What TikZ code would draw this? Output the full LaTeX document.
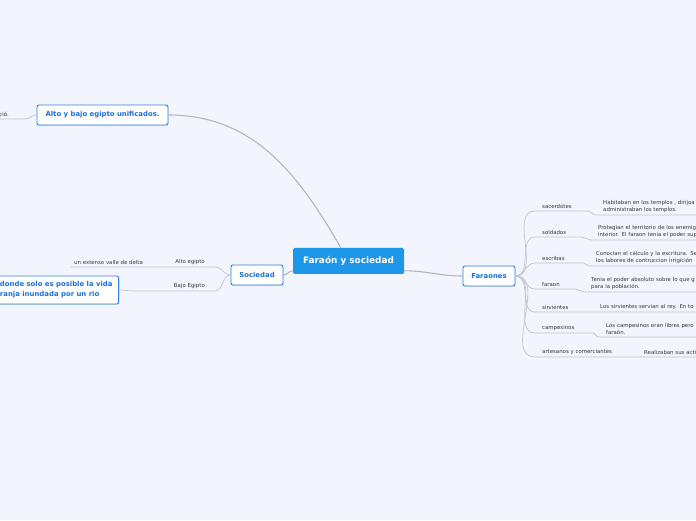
\documentclass[tikz,border=0pt]{standalone}
\usepackage{fontspec}
\setmainfont{DejaVu Sans}
\usetikzlibrary{positioning,calc,shadows}
\definecolor{Paper}{RGB}{242,245,254}
\definecolor{Topic}{RGB}{29,151,233}
\definecolor{Rim}{RGB}{42,128,222}
\definecolor{Ink}{RGB}{28,112,212}
\definecolor{Wire}{RGB}{192,196,205}
\definecolor{Trunk}{RGB}{178,182,190}

\begin{document}
\begin{tikzpicture}[x=1pt,y=1pt,
  main/.style={fill=Topic,rounded corners=1.5pt,text=white,font=\fontsize{8.9}{10}\selectfont\bfseries,minimum width=111pt,minimum height=26pt},
  sub/.style={draw=Rim,line width=0.9pt,fill=white,rounded corners=2pt,text=Ink,font=\fontsize{6.9}{10}\selectfont\bfseries,minimum height=20pt,inner xsep=7pt,drop shadow={opacity=0.18,shadow xshift=0.7pt,shadow yshift=-0.9pt}},
  leaf/.style={font=\fontsize{5.4}{6.8}\selectfont,text=black!78,inner xsep=7pt,inner ysep=2.2pt},
  wire/.style={draw=Wire,line width=0.7pt},
  trunk/.style={draw=Trunk,line width=1.1pt}]

  \fill[Paper] (0,0) rectangle (696,520);
  \useasboundingbox (0,0) rectangle (696,520);

  \node[main] (root) at (348.5,259) {Faraón y sociedad};
  \node[sub,minimum width=131pt] (unif) at (102.5,405) {Alto y bajo egipto unificados.};
  \node[sub,minimum width=52pt] (soc) at (257,245) {Sociedad};
  \node[sub,minimum width=52pt] (far) at (489,244) {Faraones};
  \node[sub,anchor=east,align=left,minimum height=28pt,inner xsep=6pt] (zona) at (119,230) {donde solo es posible la vida\\ranja inundada por un rio};

  \node[leaf,anchor=south east,text width=14pt,align=right,inner xsep=16pt] (cio) at (25,401) {ció.};
  \node[leaf,anchor=south east,align=right,inner xsep=10pt] (alto) at (215,253) {Alto egipto};
  \node[leaf,anchor=south west,text width=88pt,align=left,inner xsep=4pt] (valle) at (70,253) {un extenso valle de delta};
  \node[leaf,anchor=south east,text width=60pt,align=right,inner xsep=10pt] (bajo) at (215,229) {Bajo Egipto};

  \node[leaf,anchor=south west,text width=38pt,align=left] (sac) at (535,309) {sacerdotes};
  \node[leaf,anchor=south west,text width=32pt,align=left] (sol) at (535,283) {soldados};
  \node[leaf,anchor=south west,text width=34pt,align=left] (esc) at (535,257) {escribas};
  \node[leaf,anchor=south west,text width=26pt,align=left] (fara) at (535,231) {faraon};
  \node[leaf,anchor=south west,text width=41pt,align=left] (sirv) at (535,208) {sirvientes};
  \node[leaf,anchor=south west,text width=43pt,align=left] (camp) at (535,187) {campesinos};
  \node[leaf,anchor=south west,text width=81pt,align=left] (art) at (535,163) {artesanos y comerciantes};

  \node[leaf,anchor=south west,text width=130pt,align=left] (sacd) at (596,305) {Habitaban en los templos , dirijoa\\administraban los templos.};
  \node[leaf,anchor=south west,text width=130pt,align=left] (sold) at (591,280) {Protegian el territorio de los enemig\\interior. El faraon tenia el poder sup};
  \node[leaf,anchor=south west,text width=130pt,align=left] (escd) at (589,254) {Conocian el cálculo y la escritura. Se\\los labores de contruccion irrigición};
  \node[leaf,anchor=south west,text width=130pt,align=left] (farad) at (584,228) {Tenia el poder absoluto sobre lo que g\\para la población.};
  \node[leaf,anchor=south west,text width=130pt,align=left,inner xsep=10pt] (sirvd) at (590,208) {Los sirvientes servian al rey. En to};
  \node[leaf,anchor=south west,text width=130pt,align=left] (campd) at (599,183) {Los campesinos eran libres pero\\faraón.};
  \node[leaf,anchor=south west,text width=130pt,align=left] (artd) at (637,163) {Realizaban sus acti};

  \draw[trunk] (root.120) to[out=120,in=0] (unif.east);
  \draw[trunk] (root.190) to[out=180,in=0] (soc.east);
  \draw[trunk] (root.350) to[out=0,in=180] (far.west);

  \draw[wire] (unif.west) to[out=180,in=0] (cio.south east) -- (cio.south west);
  \draw[wire] (soc.west) to[out=180,in=0] (alto.south east) -- (alto.south west) -- (valle.south east) -- (valle.south west);
  \draw[wire] (soc.west) to[out=180,in=0] (bajo.south east) -- (bajo.south west) to[out=180,in=0] (zona.east);

  \foreach \k in {sac,sol,esc,fara,sirv,camp,art}
    \draw[wire] (far.east) to[out=0,in=180] (\k.south west) -- (\k.south east) to[out=0,in=180] (\k d.south west) -- (\k d.south east);
\end{tikzpicture}
\end{document}
